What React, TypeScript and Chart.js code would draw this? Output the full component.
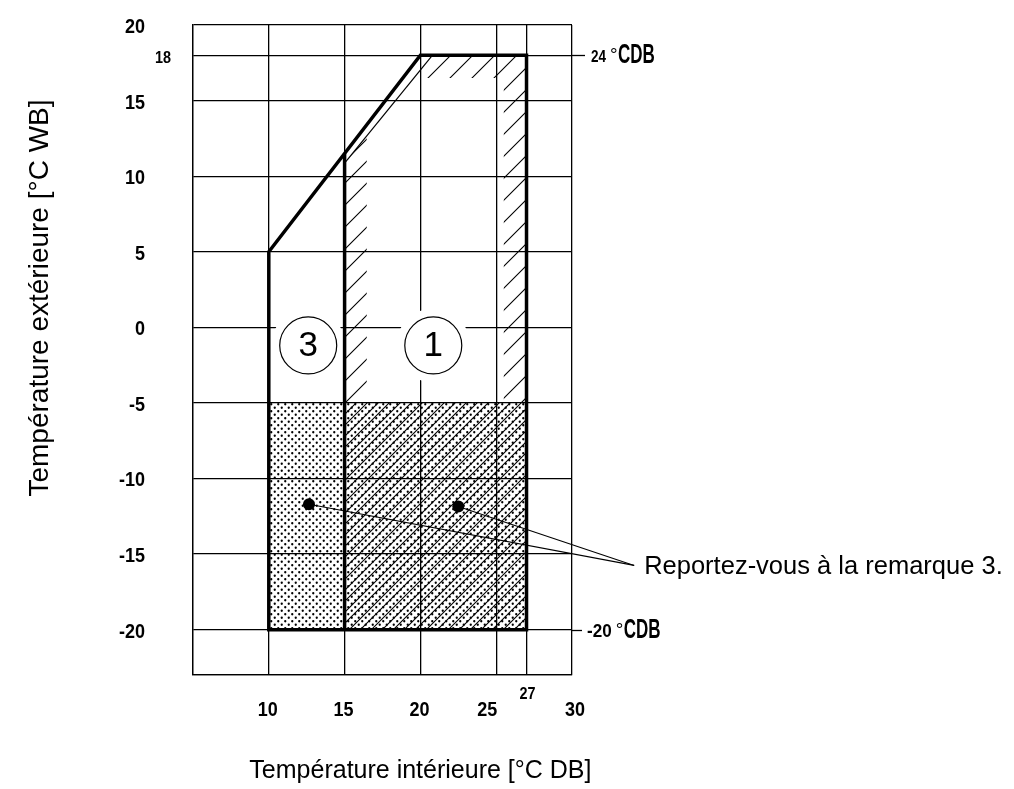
import React, { useEffect, useRef } from 'react';
import { Chart, registerables } from 'chart.js';

Chart.register(...registerables);

// ---- data ----
const xGridValues = [5, 10, 15, 20, 25, 27, 30];
const yGridValues = [-23, -20, -15, -10, -5, 0, 5, 10, 15, 18, 20];

const xLabelValues = [10, 15, 20, 25, 27, 30];
const xLabelTexts = ['10', '15', '20', '25', '27', '30'];
const yLabelValues = [20, 18, 15, 10, 5, 0, -5, -10, -15, -20];
const yLabelTexts = ['20', '18', '15', '10', '5', '0', '-5', '-10', '-15', '-20'];

const outerBoundary = [
  { x: 10, y: -20 }, { x: 10, y: 5 }, { x: 20, y: 18 }, { x: 27, y: 18 }, { x: 27, y: -20 }, { x: 10, y: -20 },
];
const dividerLine = [{ x: 15, y: -20 }, { x: 15, y: 11.5 }];
const thinInnerLine = [{ x: 15, y: 10.86 }, { x: 20.8, y: 18 }];

const bandOuter = [{ x: 15, y: -5 }, { x: 15, y: 10.86 }, { x: 20.8, y: 18 }, { x: 27, y: 18 }, { x: 27, y: -5 }];
const bandInner = [{ x: 16.46, y: -5 }, { x: 16.46, y: 12.66 }, { x: 19.58, y: 16.5 }, { x: 25.5, y: 16.5 }, { x: 25.5, y: -5 }];
const dottedZone = [{ x: 10, y: -20 }, { x: 10, y: -5 }, { x: 27, y: -5 }, { x: 27, y: -20 }];
const hatchedZone = [{ x: 15, y: -20 }, { x: 15, y: -5 }, { x: 27, y: -5 }, { x: 27, y: -20 }];

const zoneCircleX = [12.6, 20.85];
const zoneCircleY = [-1.2, -1.2];
const zoneCircleLabels = ['3', '1'];

const notePoints = [{ x: 12.65, y: -11.7 }, { x: 22.5, y: -11.85 }];
const noteAnchor = { x: 34.1, y: -15.75 };
const noteText = 'Reportez-vous à la remarque 3.';

const limitValues = [18, -20];
const limitNumbers = ['24', '-20'];
const limitUnit = 'CDB';

const yTitle = 'Température extérieure [°C WB]';
const xTitle = 'Température intérieure [°C DB]';

// ---- drawing helpers ----
const BOLD_FONT = '"Liberation Sans", Arial, sans-serif';
const TEXT_FONT = '"Liberation Sans", Arial, sans-serif';

function condensed(
  ctx: CanvasRenderingContext2D,
  text: string,
  x: number,
  y: number,
  size: number,
  scaleX: number,
  align: CanvasTextAlign,
  baseline: CanvasTextBaseline = 'alphabetic',
) {
  ctx.save();
  ctx.font = `bold ${size}px ${BOLD_FONT}`;
  ctx.textAlign = align;
  ctx.textBaseline = baseline;
  ctx.translate(x, y);
  ctx.scale(scaleX, 1);
  ctx.fillText(text, 0, 0);
  const w = ctx.measureText(text).width * scaleX;
  ctx.restore();
  return w;
}

function makePattern(ctx: CanvasRenderingContext2D, kind: 'dots' | 'hatch', size: number, lw = 1) {
  const c = document.createElement('canvas');
  c.width = size;
  c.height = size;
  const g = c.getContext('2d')!;
  g.fillStyle = '#000';
  g.strokeStyle = '#000';
  if (kind === 'dots') {
    const r = 1.15;
    const h = size / 2;
    [[h / 2, h / 2], [h / 2 + h, h / 2 + h]].forEach(([cx, cy]) => {
      g.beginPath();
      g.arc(cx, cy, r, 0, Math.PI * 2);
      g.fill();
    });
  } else {
    g.lineWidth = lw;
    g.beginPath();
    g.moveTo(-2, size + 2);
    g.lineTo(size + 2, -2);
    g.moveTo(-2, 2);
    g.lineTo(2, -2);
    g.moveTo(size - 2, size + 2);
    g.lineTo(size + 2, size - 2);
    g.stroke();
  }
  return ctx.createPattern(c, 'repeat')!;
}

const diagramPlugin = {
  id: 'diagram',
  beforeDatasetsDraw(chart: any) {
    const { ctx, scales } = chart;
    const sx = scales.x;
    const sy = scales.y;
    const path = (pts: { x: number; y: number }[]) => {
      pts.forEach((p, i) => {
        const X = sx.getPixelForValue(p.x);
        const Y = sy.getPixelForValue(p.y);
        if (i === 0) ctx.moveTo(X, Y);
        else ctx.lineTo(X, Y);
      });
      ctx.closePath();
    };
    ctx.save();
    // hatched band of zone 1
    ctx.beginPath();
    path(bandOuter);
    path(bandInner);
    ctx.fillStyle = makePattern(ctx, 'hatch', 22, 1.1);
    ctx.fill('evenodd');
    // dotted zone
    ctx.beginPath();
    path(dottedZone);
    ctx.fillStyle = makePattern(ctx, 'dots', 7);
    ctx.fill();
    // hatched lower zone
    ctx.beginPath();
    path(hatchedZone);
    ctx.fillStyle = makePattern(ctx, 'hatch', 11, 1.1);
    ctx.fill();

    // zone circles
    zoneCircleX.forEach((cxv, i) => {
      const X = sx.getPixelForValue(cxv);
      const Y = sy.getPixelForValue(zoneCircleY[i]);
      ctx.beginPath();
      ctx.fillStyle = '#fff';
      ctx.arc(X, Y, 37, 0, Math.PI * 2);
      ctx.fill();
      ctx.beginPath();
      ctx.strokeStyle = '#000';
      ctx.lineWidth = 1.2;
      ctx.arc(X, Y, 28.5, 0, Math.PI * 2);
      ctx.stroke();
      ctx.fillStyle = '#000';
      ctx.font = `35px ${TEXT_FONT}`;
      ctx.textAlign = 'center';
      ctx.textBaseline = 'middle';
      ctx.fillText(zoneCircleLabels[i], X, Y + 1);
    });
    ctx.restore();
  },
  afterDraw(chart: any) {
    const { ctx, scales, chartArea } = chart;
    const sx = scales.x;
    const sy = scales.y;
    ctx.save();
    ctx.fillStyle = '#000';
    ctx.strokeStyle = '#000';

    // y tick labels
    yLabelValues.forEach((v, i) => {
      const Y = sy.getPixelForValue(v);
      if (v === 18) {
        condensed(ctx, yLabelTexts[i], chartArea.left - 30, Y + 8, 16, 0.9, 'center');
      } else {
        condensed(ctx, yLabelTexts[i], chartArea.left - 48, Y + 8, 20, 0.9, 'right');
      }
    });
    // x tick labels
    xLabelValues.forEach((v, i) => {
      const X = sx.getPixelForValue(v);
      if (v === 27) {
        condensed(ctx, xLabelTexts[i], X + 1, chartArea.bottom + 24, 16, 0.9, 'center');
      } else {
        const nudge = v === 25 ? -9 : v === 30 ? 3 : -1;
        condensed(ctx, xLabelTexts[i], X + nudge, chartArea.bottom + 41, 20, 0.9, 'center');
      }
    });

    // limit lines extending beyond the grid and their labels
    limitValues.forEach((v, i) => {
      const Y = Math.round(sy.getPixelForValue(v)) + 0.5;
      ctx.lineWidth = 1.3;
      ctx.beginPath();
      ctx.moveTo(chartArea.right, Y);
      ctx.lineTo(chartArea.right + (i === 0 ? 13 : 10), Y);
      ctx.stroke();
      const x0 = chartArea.right + (i === 0 ? 19 : 15);
      const w = condensed(ctx, limitNumbers[i], x0, Y + 6.5, i === 0 ? 16.5 : 18, i === 0 ? 0.82 : 0.95, 'left');
      ctx.font = `19px ${TEXT_FONT}`;
      ctx.textAlign = 'left';
      ctx.textBaseline = 'alphabetic';
      ctx.fillText('°', x0 + w + 4, Y + 5);
      condensed(ctx, limitUnit, x0 + w + 4 + 8, Y + 7.5, 27, 0.63, 'left');
    });

    // note leader lines and text
    const AX = sx.getPixelForValue(noteAnchor.x);
    const AY = sy.getPixelForValue(noteAnchor.y);
    ctx.lineWidth = 1.1;
    notePoints.forEach((p) => {
      ctx.beginPath();
      ctx.moveTo(sx.getPixelForValue(p.x), sy.getPixelForValue(p.y));
      ctx.lineTo(AX, AY);
      ctx.stroke();
    });
    ctx.font = `25.5px ${TEXT_FONT}`;
    ctx.textAlign = 'left';
    ctx.textBaseline = 'middle';
    ctx.fillText(noteText, AX + 10, AY + 2);

    // axis titles
    ctx.font = `28px ${TEXT_FONT}`;
    ctx.textAlign = 'center';
    ctx.textBaseline = 'alphabetic';
    ctx.save();
    ctx.translate(48, 298);
    ctx.rotate(-Math.PI / 2);
    ctx.fillText(yTitle, 0, 0);
    ctx.restore();
    ctx.font = `25px ${TEXT_FONT}`;
    ctx.fillText(xTitle, sx.getPixelForValue(20), chartArea.bottom + 103);
    ctx.restore();
  },
};

export default function App() {
  const ref = useRef<HTMLCanvasElement | null>(null);
  useEffect(() => {
    if (!ref.current) return;
    const chart = new Chart(ref.current, {
      type: 'scatter',
      data: {
        datasets: [
          {
            data: outerBoundary,
            showLine: true,
            borderColor: '#000',
            borderWidth: 3.5,
            pointRadius: 0,
            borderJoinStyle: 'miter',
            borderCapStyle: 'square',
          } as any,
          {
            data: dividerLine,
            showLine: true,
            borderColor: '#000',
            borderWidth: 3.5,
            pointRadius: 0,
          },
          {
            data: thinInnerLine,
            showLine: true,
            borderColor: '#000',
            borderWidth: 1.2,
            pointRadius: 0,
          },
          {
            data: notePoints,
            showLine: false,
            pointRadius: 6,
            pointBackgroundColor: '#000',
            pointBorderWidth: 0,
          },
        ],
      },
      options: {
        responsive: false,
        animation: false,
        devicePixelRatio: 1,
        layout: { padding: { left: 193, top: 25, right: 442, bottom: 114 } },
        plugins: { legend: { display: false }, tooltip: { enabled: false } },
        events: [],
        scales: {
          x: {
            type: 'linear',
            min: 5,
            max: 30,
            afterBuildTicks: (s: any) => {
              s.ticks = xGridValues.map((v) => ({ value: v }));
            },
            ticks: { display: false },
            grid: { color: '#000', lineWidth: 1.3, drawTicks: false },
            border: { color: '#000', width: 1.3 },
          },
          y: {
            type: 'linear',
            min: -23,
            max: 20,
            afterBuildTicks: (s: any) => {
              s.ticks = yGridValues.map((v) => ({ value: v }));
            },
            ticks: { display: false },
            grid: { color: '#000', lineWidth: 1.3, drawTicks: false },
            border: { color: '#000', width: 1.3 },
          },
        },
      },
      plugins: [diagramPlugin],
    });
    return () => chart.destroy();
  }, []);
  return (
    <div style={{ position: 'absolute', left: 0, top: 0, width: 1014, height: 789, background: '#fff' }}>
      <canvas ref={ref} width={1014} height={789} style={{ display: 'block' }} />
    </div>
  );
}
